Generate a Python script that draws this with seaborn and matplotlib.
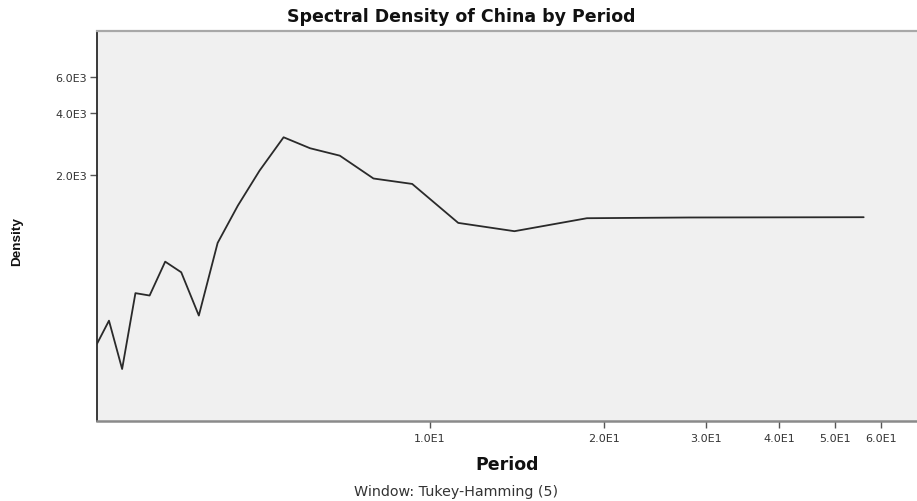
import matplotlib
matplotlib.use("Agg")
import matplotlib.pyplot as plt
from matplotlib.ticker import FixedLocator, NullLocator, FixedFormatter
import pandas as pd
import seaborn as sns

# Spectral density estimates (Tukey-Hamming window, span 5) by period
periods = [56.0, 28.0, 18.67, 14.0, 11.2, 9.33, 8.0, 7.0, 6.22, 5.6, 5.09,
           4.67, 4.31, 4.0, 3.73, 3.5, 3.29, 3.11, 2.95, 2.8, 2.67]
density = [1244, 1240, 1230, 1063, 1167, 1808, 1922, 2484, 2700, 3054, 2099,
           1417, 932, 412, 670, 755, 516, 530, 226, 389, 300]

x_ticks = [10, 20, 30, 40, 50, 60]
x_tick_labels = ["1.0E1", "2.0E1", "3.0E1", "4.0E1", "5.0E1", "6.0E1"]
y_ticks = [2000, 4000, 6000]
y_tick_labels = ["2.0E3", "4.0E3", "6.0E3"]

df = pd.DataFrame({"Period": periods, "Density": density})

sns.set_theme(style="ticks")
plt.rcParams["font.family"] = ["DejaVu Sans"]

W, H = 917, 502
fig = plt.figure(figsize=(W / 100, H / 100), dpi=100)
fig.patch.set_facecolor("white")
ax = fig.add_axes([97 / W, 1 - 422 / H, 1 - 97 / W, 390 / H])
ax.set_facecolor("#f0f0f0")

sns.lineplot(data=df, x="Period", y="Density", ax=ax, color="#2a2a2a",
             linewidth=1.3, estimator=None, sort=True)

ax.set_xscale("log")
ax.set_yscale("log")
ax.set_xlim(min(periods), 69.2)
ax.set_ylim(126, 10080)

ax.xaxis.set_major_locator(FixedLocator(x_ticks))
ax.xaxis.set_major_formatter(FixedFormatter(x_tick_labels))
ax.xaxis.set_minor_locator(NullLocator())
ax.yaxis.set_major_locator(FixedLocator(y_ticks))
ax.yaxis.set_major_formatter(FixedFormatter(y_tick_labels))
ax.yaxis.set_minor_locator(NullLocator())

ax.tick_params(axis="both", direction="out", length=5, width=1,
               color="#555555", labelcolor="#333333", labelsize=8)
ax.tick_params(axis="x", pad=4)
ax.tick_params(axis="y", pad=2)

ax.spines["left"].set_color("#2a2a2a")
ax.spines["left"].set_linewidth(1.3)
ax.spines["bottom"].set_color("#8a8a8a")
ax.spines["bottom"].set_linewidth(1.8)
ax.spines["top"].set_visible(True)
ax.spines["top"].set_color("#a8a8a8")
ax.spines["top"].set_linewidth(1.6)
ax.spines["right"].set_visible(False)

ax.set_xlabel("Period", fontsize=12.5, fontweight="bold", labelpad=8,
              color="#111111")
ax.set_ylabel("")

fig.text(17 / W, 1 - 242 / H, "Density", rotation=90, ha="center",
         va="center", fontsize=9.7, fontweight="bold", color="#111111",
         family=["Liberation Sans Narrow", "Liberation Sans", "DejaVu Sans"])
fig.text(461 / W, 1 - 17 / H, "Spectral Density of China by Period",
         ha="center", va="center", fontsize=12.5, fontweight="bold",
         color="#111111")
fig.text(456 / W, 1 - 492 / H, "Window: Tukey-Hamming (5)", ha="center",
         va="center", fontsize=10.3, color="#333333")

fig.savefig("out.png", dpi=100)
